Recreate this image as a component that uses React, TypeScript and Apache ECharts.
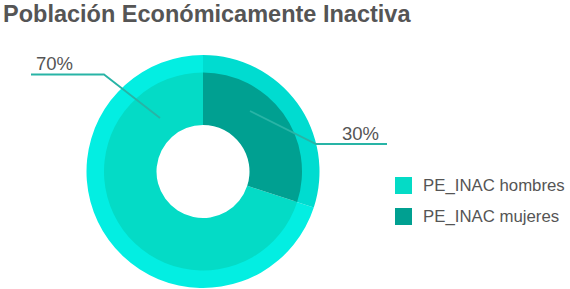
import React, { useEffect, useRef } from "react";
import * as echarts from "echarts";

const titleText = "Población Económicamente Inactiva";
const categories = ["PE_INAC hombres", "PE_INAC mujeres"];
const values = [70, 30];
const innerColors = ["#04DBC6", "#00A091"];
const outerColors = ["#03EEE2", "#00DCD0"];

const FONT = "'Liberation Sans', Arial, Helvetica, sans-serif";
const CX = 203;
const CY = 171.5;

// label guide geometry relative to the pie centre (layout only)
const guides = [
  { start: [-43, -53.5], elbow: [-99, -97], end: [-172, -97], text: [-167, -108.5], align: "left" },
  { start: [47, -60.5], elbow: [113, -27.5], end: [184, -27.5], text: [176, -38.5], align: "right" },
];

export default function App() {
  const ref = useRef<HTMLDivElement>(null);
  useEffect(() => {
    document.body.style.margin = "0";
    const chart = echarts.init(ref.current!, undefined, { renderer: "svg" });
    const mk = (colors: string[]) =>
      categories.map((name, i) => ({ name, value: values[i], itemStyle: { color: colors[i] } }));
    const labelData = categories.map((name, i) => ({
      name,
      value: values[i],
      itemStyle: { color: "rgba(0,0,0,0)" },
    }));
    chart.setOption({
      animation: false,
      title: {
        text: titleText,
        left: 3,
        top: 2,
        padding: 0,
        textStyle: { fontFamily: FONT, fontSize: 23.5, fontWeight: "bold", color: "#555555" },
      },
      legend: {
        data: categories,
        orient: "vertical",
        left: 390,
        top: 172,
        itemWidth: 17,
        itemHeight: 17,
        itemGap: 14,
        icon: "rect",
        textStyle: { fontFamily: FONT, fontSize: 16.8, color: "#555555", padding: [0, 0, 0, 6] },
      },
      series: [
        {
          type: "pie",
          name: "inner",
          center: [CX, CY],
          radius: [46.5, 99],
          startAngle: 90,
          clockwise: false,
          z: 3,
          silent: true,
          data: mk(innerColors),
          label: { show: false },
          labelLine: { show: false },
          emphasis: { disabled: true },
        },
        {
          type: "pie",
          name: "ring",
          center: [CX, CY],
          radius: [96, 116.5],
          startAngle: 90,
          clockwise: false,
          z: 1,
          silent: true,
          data: mk(outerColors),
          label: { show: false },
          labelLine: { show: false },
          emphasis: { disabled: true },
        },
        {
          type: "pie",
          name: "labels",
          center: [CX, CY],
          radius: [46.5, 99],
          startAngle: 90,
          clockwise: false,
          z: 6,
          silent: true,
          legendHoverLink: false,
          data: labelData,
          label: {
            show: true,
            formatter: "{c}%",
            fontFamily: FONT,
            fontSize: 18.5,
            color: "#555555",
          },
          labelLine: {
            show: true,
            smooth: false,
            lineStyle: { color: "#28B4A6", width: 1.8 },
          },
          labelLayout: (params: any) => {
            const g = guides[params.dataIndex];
            if (!g) return {};
            return {
              x: CX + g.text[0],
              y: CY + g.text[1],
              align: g.align,
              verticalAlign: "middle",
              labelLinePoints: [
                [CX + g.start[0], CY + g.start[1]],
                [CX + g.elbow[0], CY + g.elbow[1]],
                [CX + g.end[0], CY + g.end[1]],
              ],
            };
          },
          emphasis: { disabled: true },
        },
      ],
    });
    return () => chart.dispose();
  }, []);
  return <div ref={ref} style={{ position: "absolute", left: 0, top: 0, width: 570, height: 289 }} />;
}
